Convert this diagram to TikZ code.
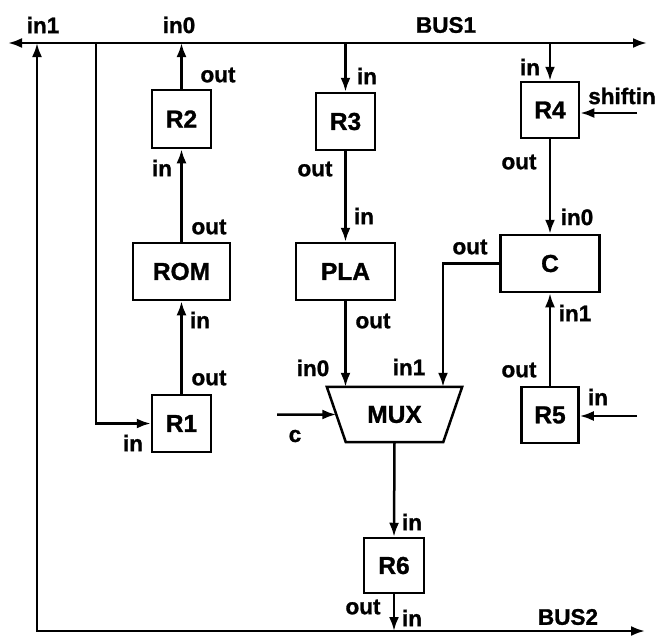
\documentclass[tikz,border=0pt]{standalone}
\usepackage{fontspec}
\setmainfont{Liberation Sans}[BoldFeatures={FakeBold=1.2}]
\usetikzlibrary{arrows.meta,calc}
\begin{document}
\begin{tikzpicture}[x=1pt,y=-1pt,
  every node/.style={font=\fontsize{22.5}{26}\selectfont\bfseries},
  box/.style={draw,line width=2.5pt,inner sep=0pt,font=\fontsize{24.5}{28}\selectfont\bfseries},
  lab/.style={inner sep=0pt},
  wire/.style={line width=2.5pt},
  arr/.style={wire,-{Latex[length=14pt,width=10pt]}},
  darr/.style={wire,{Latex[length=14pt,width=10pt]}-{Latex[length=14pt,width=10pt]}},
]
\useasboundingbox (0,0) rectangle (658,635);

% boxes
\node[box,minimum width=59pt,minimum height=58pt] (R2) at (181.5,119) {R2};
\node[box,minimum width=97pt,minimum height=57pt] (ROM) at (181.5,271.5) {ROM};
\node[box,minimum width=59pt,minimum height=57pt] (R1) at (181.5,423.5) {R1};
\node[box,minimum width=59pt,minimum height=57pt] (R3) at (345.5,121.5) {R3};
\node[box,minimum width=99pt,minimum height=57pt] (PLA) at (345.5,271.5) {PLA};
\node[box,minimum width=58pt,minimum height=56pt] (R4) at (550,110) {R4};
\node[box,minimum width=99pt,minimum height=57pt] (C) at (550,263.5) {C};
\node[box,minimum width=57pt,minimum height=56pt] (R5) at (550,415) {R5};
\node[box,minimum width=60pt,minimum height=55pt] (R6) at (394,565.5) {R6};
\node[inner sep=0pt,minimum width=135pt,minimum height=55pt,font=\fontsize{24.5}{28}\selectfont\bfseries] (MUX) at (394.5,414.5) {MUX};
\draw[wire,line join=miter] (MUX.north west) -- (MUX.north east)
  -- ($(MUX.south east)+(-19,0)$) -- ($(MUX.south west)+(19,0)$) -- cycle;
\coordinate (muxL) at ($(MUX.north west)!0.5!($(MUX.south west)+(19,0)$)$);

% bus coordinates
\coordinate (b1L) at (8,43);
\coordinate (b1R) at (647,43);
\coordinate (in1) at (37,43);
\coordinate (b2L) at (37,631);
\coordinate (b2R) at (645,631);
\coordinate (tap) at (96,43);
\coordinate (shin) at (637,113);
\coordinate (r5in) at (637,416);
\coordinate (cbend) at (443,263.5);
\coordinate (csrc) at (277,414.5);

% buses
\draw[darr] (b1L) -- (b1R);
\draw[darr] (in1) -- (b2L) -- (b2R);

% connectors
\draw[arr] (tap) |- (R1.west);
\draw[arr] (R2.north) -- (R2.north |- b1L);
\draw[arr] (ROM.north) -- (R2.south);
\draw[arr] (R1.north) -- (ROM.south);
\draw[arr] (R3.north |- b1L) -- (R3.north);
\draw[arr] (R3.south) -- (PLA.north);
\draw[arr] (PLA.south) -- (PLA.south |- MUX.north);
\draw[arr] (R4.north |- b1L) -- (R4.north);
\draw[arr] (shin) -- (shin -| R4.east);
\draw[arr] (R4.south) -- (C.north);
\draw[arr] (R5.north) -- (C.south);
\draw[arr] (r5in) -- (r5in -| R5.east);
\draw[arr] (C.west) -- (cbend) -- (cbend |- MUX.north);
\draw[arr] (csrc) -- (muxL);
\draw[arr] (MUX.south) -- (R6.north);
\draw[arr] (R6.south) -- (R6.south |- b2L);

% labels
\node[lab] (l1) at (43,25) {in1};
\node[lab] (l2) at (179,25) {in0};
\node[lab] (l3) at (446,25) {BUS1};
\node[lab] (l4) at (218,75) {out};
\node[lab] (l5) at (162,168) {in};
\node[lab] (l6) at (367,76) {in};
\node[lab] (l7) at (530,67) {in};
\node[lab] (l8) at (622,96) {shiftin};
\node[lab] (l9) at (519,162) {out};
\node[lab] (l10) at (315,169) {out};
\node[lab] (l11) at (364,216) {in};
\node[lab] (l12) at (577,217) {in0};
\node[lab] (l13) at (209,227) {out};
\node[lab] (l14) at (200,320) {in};
\node[lab] (l15) at (209,378) {out};
\node[lab] (l16) at (133,443) {in};
\node[lab] (l17) at (313,368) {in0};
\node[lab] (l18) at (373,321) {out};
\node[lab] (l19) at (409,367) {in1};
\node[lab] (l20) at (470,247) {out};
\node[lab] (l21) at (575,313) {in1};
\node[lab] (l22) at (519,370) {out};
\node[lab] (l23) at (598,397) {in};
\node[lab] (l24) at (295,436) {c};
\node[lab] (l25) at (412,522) {in};
\node[lab] (l26) at (363,607) {out};
\node[lab] (l27) at (412,618) {in};
\node[lab] (l28) at (568,617) {BUS2};
\end{tikzpicture}
\end{document}
